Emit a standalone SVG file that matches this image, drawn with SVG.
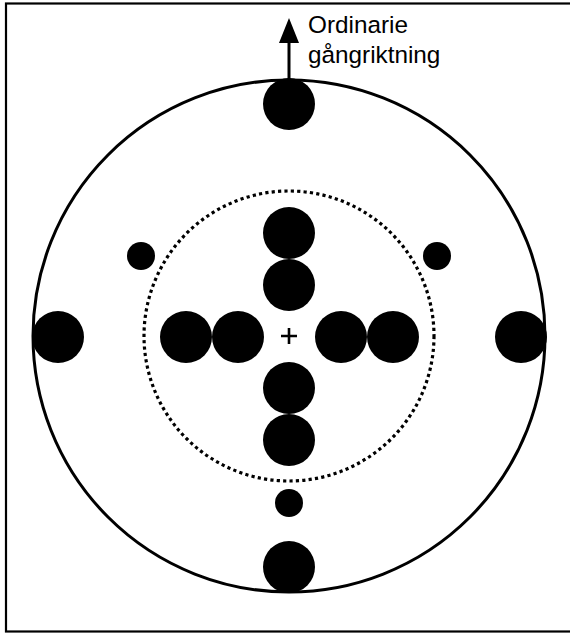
<svg xmlns="http://www.w3.org/2000/svg" width="570" height="634" viewBox="0 0 570 634">
<style>
.dot{fill:#000}
.ring{fill:none;stroke:#000;stroke-width:3}
.dash{fill:none;stroke:#000;stroke-width:3.2;stroke-dasharray:3.2 3.2}
.lbl{font-family:"Liberation Sans",Arial,sans-serif;font-size:24.3px;fill:#000}
</style>
<rect x="0" y="0" width="570" height="634" fill="#fff"/>
<rect x="6" y="3.5" width="600" height="628" fill="none" stroke="#000" stroke-width="2.2"/>
<g id="outer"><circle class="ring" cx="289" cy="336" r="256"/></g>
<g id="inner"><circle class="dash" cx="289" cy="336" r="145"/></g>
<g id="connectors">
<line x1="289" y1="79" x2="289" y2="42" stroke="#000" stroke-width="3"/>
<path d="M279,43 L289,18 L299,43 Z" fill="#000"/>
</g>
<g id="label"><text class="lbl" x="308" y="33">Ordinarie</text><text class="lbl" x="308" y="63">gångriktning</text></g>
<g id="center"><path d="M281,336 H297 M289,328 V344" stroke="#000" stroke-width="2.6"/></g>
<g id="outer-dots">
<circle class="dot" cx="289" cy="104" r="26"/>
<circle class="dot" cx="289" cy="567" r="26"/>
<circle class="dot" cx="58" cy="337" r="26"/>
<circle class="dot" cx="521" cy="337" r="26"/>
<circle class="dot" cx="289" cy="503" r="14"/>
<circle class="dot" cx="141" cy="256" r="14"/>
<circle class="dot" cx="437" cy="256" r="14"/>
</g>
<g id="cross-dots">
<circle class="dot" cx="289" cy="233" r="26"/>
<circle class="dot" cx="289" cy="285" r="26"/>
<circle class="dot" cx="289" cy="388" r="26"/>
<circle class="dot" cx="289" cy="440" r="26"/>
<circle class="dot" cx="186" cy="337" r="26"/>
<circle class="dot" cx="238" cy="337" r="26"/>
<circle class="dot" cx="341" cy="337" r="26"/>
<circle class="dot" cx="393" cy="337" r="26"/>
</g>
</svg>
